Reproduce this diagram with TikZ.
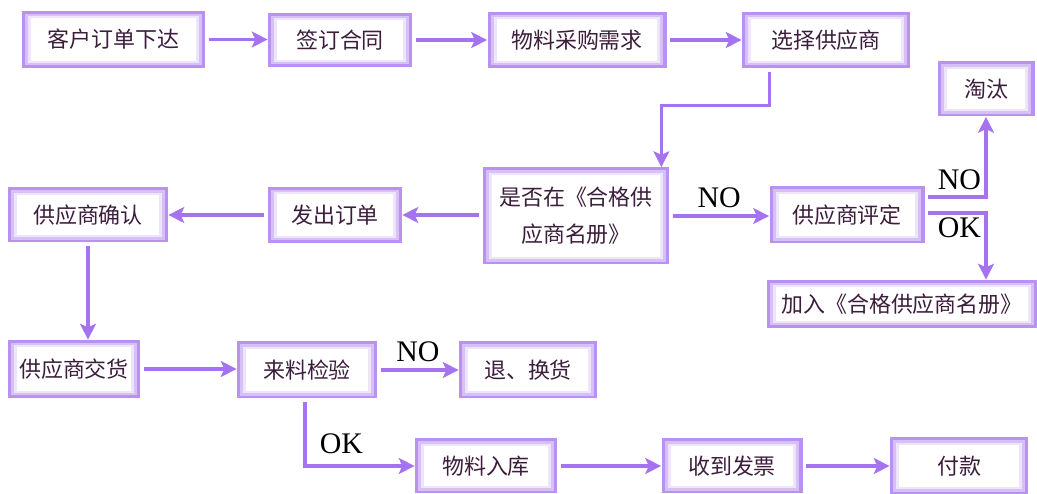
\documentclass[tikz,border=0pt]{standalone}
\usepackage{fontspec}
\newfontfamily\cjk{Noto Sans CJK SC}
\newfontfamily\lat{Liberation Serif}
\usetikzlibrary{arrows.meta,positioning}
\definecolor{frame}{RGB}{185,145,240}
\definecolor{framemid}{RGB}{214,192,248}
\definecolor{framelow}{RGB}{238,228,252}
\definecolor{flow}{RGB}{165,115,240}
\definecolor{ink}{RGB}{60,30,60}
\tikzset{
  box/.style={rectangle, fill=frame, text=ink, inner sep=0pt, align=center,
    minimum height=1.12cm, font=\cjk\fontsize{12.5}{21}\selectfont,
    path picture={
      \fill[framemid] ([shift={(1.8pt,1.5pt)}]path picture bounding box.south west)
        rectangle ([shift={(-1.8pt,-1.5pt)}]path picture bounding box.north east);
      \fill[framelow] ([shift={(3.6pt,3pt)}]path picture bounding box.south west)
        rectangle ([shift={(-3.6pt,-3pt)}]path picture bounding box.north east);
      \fill[white] ([shift={(5.4pt,4.2pt)}]path picture bounding box.south west)
        rectangle ([shift={(-5.4pt,-4.2pt)}]path picture bounding box.north east);
    }},
  arr/.style={draw=flow, line width=1.8pt, -{Stealth[length=9pt,width=9pt,inset=2pt]},
    shorten <=2pt},
  tag/.style={font=\lat\fontsize{17}{17}\selectfont, text=black, inner sep=1pt}
}
\begin{document}
\begin{tikzpicture}
    \useasboundingbox (0,0) rectangle (20.74,-9.88);

    % top row
    \node[box, minimum width=3.66cm, minimum height=1.14cm] (order) at (2.27,-0.79) {客户订单下达};
    \node[box, minimum width=2.88cm, minimum height=1.08cm] (sign) at (6.8,-0.8) {签订合同};
    \node[box, minimum width=3.58cm] (need) at (11.54,-0.8) {物料采购需求};
    \node[box, minimum width=3.36cm] (pick) at (16.52,-0.8) {选择供应商};
    \node[box, minimum width=1.94cm, minimum height=1.1cm] (drop) at (19.72,-1.78) {淘汰};

    % middle row
    \node[box, minimum width=3.72cm, minimum height=1.94cm] (check) at (11.52,-4.32) {是否在《合格供\\应商名册》};
    \node[box, minimum width=3.1cm, minimum height=1.14cm] (eval) at (16.94,-4.3) {供应商评定};
    \node[box, minimum width=5.4cm, minimum height=0.96cm] (add) at (18.04,-6.08) {加入《合格供应商名册》};
    \node[box, minimum width=2.68cm] (send) at (6.7,-4.3) {发出订单};
    \node[box, minimum width=3.2cm, minimum height=1.1cm] (conf) at (1.76,-4.3) {供应商确认};

    % lower rows
    \node[box, minimum width=2.64cm, minimum height=1.16cm] (deliv) at (1.48,-7.38) {供应商交货};
    \node[box, minimum width=2.8cm, minimum height=1.14cm] (insp) at (6.14,-7.4) {来料检验};
    \node[box, minimum width=2.76cm, minimum height=1.14cm] (back) at (10.56,-7.4) {退、换货};
    \node[box, minimum width=2.84cm, minimum height=1.1cm] (store) at (9.72,-9.32) {物料入库};
    \node[box, minimum width=2.82cm, minimum height=1.1cm] (bill) at (14.64,-9.32) {收到发票};
    \node[box, minimum width=2.76cm, minimum height=1.14cm] (pay) at (19.18,-9.32) {付款};

    % flow
    \draw[arr] (order.east) -- (order.east -| sign.west);
    \draw[arr] (sign.east) -- (sign.east -| need.west);
    \draw[arr] (need.east) -- (need.east -| pick.west);
    \draw[arr] ([xshift=0.56cm]pick.south west) -- ++(0,-0.74) -| ([xshift=-0.16cm]check.north east);
    \draw[arr] (check.east) -- node[tag, midway, above=3pt] {NO} (check.east -| eval.west);
    \draw[arr] ([yshift=0.36cm]eval.east) -| node[tag, pos=0.5, above left=2pt and 1pt] {NO} (drop.south);
    \draw[arr] ([yshift=0.04cm]eval.east) -| node[tag, pos=0.5, below left=1pt and 1pt] {OK} (add.north -| drop.south);
    \draw[arr] (eval.west -| check.west) -- (eval.west -| send.east);
    \draw[arr] (send.west) -- (send.west -| conf.east);
    \draw[arr] (conf.south) -- (conf.south |- deliv.north);
    \draw[arr] (deliv.east) -- (deliv.east -| insp.west);
    \draw[arr] (insp.east) -- node[tag, midway, above=2.5pt] {NO} (insp.east -| back.west);
    \draw[arr] ([xshift=-0.04cm]insp.south) |- node[tag, pos=0.5, above right=5pt and 6.5pt] {OK} (store.west);
    \draw[arr] (store.east) -- (store.east -| bill.west);
    \draw[arr] (bill.east) -- (bill.east -| pay.west);
\end{tikzpicture}
\end{document}
